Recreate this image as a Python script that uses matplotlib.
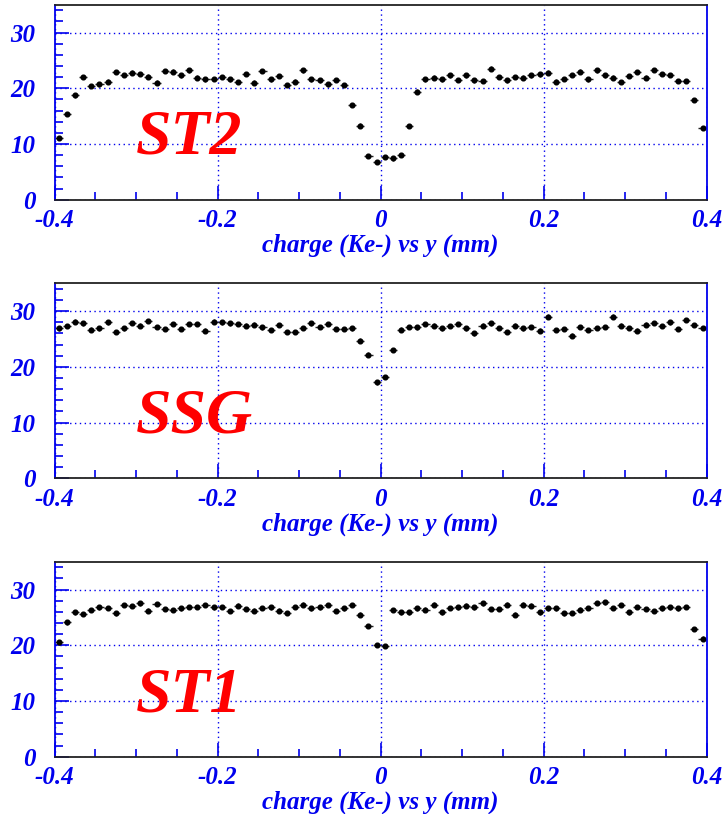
import numpy as np
import matplotlib
matplotlib.use('Agg')
import matplotlib.pyplot as plt
from matplotlib.ticker import MultipleLocator

# bin centres: 80 bins of 0.01 mm from -0.4 to 0.4
y_pos = np.round(np.arange(-0.395, 0.4, 0.01), 3)

st2 = [11.1, 15.4, 18.7, 22.0, 20.4, 20.7, 21.2, 22.9, 22.4, 22.8,
       22.6, 22.1, 21.0, 23.1, 23.0, 22.3, 23.2, 21.9, 21.6, 21.7,
       22.0, 21.6, 21.1, 22.6, 21.0, 23.1, 21.6, 22.2, 20.6, 21.2,
       23.2, 21.6, 21.4, 20.7, 21.5, 20.6, 17.0, 13.3, 7.8, 6.8,
       7.7, 7.4, 8.0, 13.2, 19.4, 21.6, 21.9, 21.6, 22.3, 21.5,
       22.3, 21.4, 21.3, 23.5, 22.0, 21.4, 22.0, 21.9, 22.3, 22.5,
       22.8, 21.2, 21.7, 22.4, 23.0, 21.6, 23.2, 22.3, 21.9, 21.1,
       22.2, 22.9, 21.9, 23.3, 22.6, 22.4, 21.3, 21.3, 17.9, 12.9]

ssg = [26.9, 27.3, 28.1, 27.8, 26.7, 26.9, 28.0, 26.3, 26.9, 27.9,
       27.4, 28.2, 27.2, 26.8, 27.7, 26.8, 27.7, 27.7, 26.5, 28.1,
       28.0, 27.8, 27.7, 27.4, 27.6, 27.1, 26.6, 27.5, 26.3, 26.3,
       27.0, 27.8, 27.2, 27.7, 26.8, 26.8, 26.9, 24.7, 22.2, 17.2,
       18.2, 23.0, 26.7, 27.2, 27.1, 27.7, 27.4, 26.9, 27.3, 27.7,
       26.9, 26.0, 27.4, 27.8, 27.0, 26.3, 27.4, 26.9, 27.2, 26.5,
       29.0, 26.6, 26.8, 25.6, 27.2, 26.6, 27.0, 27.2, 29.0, 27.4,
       27.0, 26.5, 27.6, 27.9, 27.3, 28.0, 26.8, 28.4, 27.5, 27.0]

st1 = [20.5, 24.1, 25.9, 25.6, 26.3, 26.8, 26.7, 25.7, 27.2, 27.0,
       27.5, 26.2, 27.4, 26.5, 26.3, 26.6, 26.9, 26.9, 27.2, 26.8,
       26.9, 26.1, 27.1, 26.5, 26.2, 26.7, 26.8, 26.2, 25.8, 26.9,
       27.3, 26.6, 26.8, 27.2, 26.1, 26.6, 27.2, 25.5, 23.5, 20.0,
       19.9, 26.3, 25.9, 25.9, 26.6, 26.4, 27.3, 25.9, 26.7, 26.8,
       27.1, 26.8, 27.5, 26.5, 26.5, 27.3, 25.5, 27.3, 27.1, 25.9,
       26.6, 26.6, 25.7, 25.8, 26.4, 26.7, 27.6, 27.7, 26.7, 27.2,
       25.9, 26.9, 26.5, 26.1, 26.6, 26.8, 26.6, 26.9, 22.9, 21.2]

names = ['ST2', 'SSG', 'ST1']
series = [st2, ssg, st1]

blue = '#0000ee'
font = 'Liberation Serif'

fig = plt.figure(figsize=(7.27, 8.14), dpi=100)
bottoms = [0.7547, 0.4124, 0.0704]

for name, vals, b in zip(names, series, bottoms):
    ax = fig.add_axes([0.0752, b, 0.8968, 0.2396])
    ax.errorbar(y_pos, vals, xerr=0.005, yerr=0.4, fmt='o', ms=3.4,
                color='black', ecolor='#222222', elinewidth=1.0, capsize=0)
    ax.set_xlim(-0.4, 0.4)
    ax.set_ylim(0, 35)
    ax.xaxis.set_major_locator(MultipleLocator(0.2))
    ax.xaxis.set_minor_locator(MultipleLocator(0.05))
    ax.yaxis.set_major_locator(MultipleLocator(10))
    ax.yaxis.set_minor_locator(MultipleLocator(2))
    ax.tick_params(which='both', direction='in', color=blue, width=1.2,
                   left=True, bottom=True, right=False, top=False)
    ax.tick_params(which='major', length=10)
    ax.tick_params(which='minor', length=6)
    ax.tick_params(axis='y', pad=14)
    ax.tick_params(axis='x', pad=7)
    ax.set_xticks([-0.4, -0.2, 0, 0.2, 0.4])
    ax.set_xticklabels(['-0.4', '-0.2', '0', '0.2', '0.4'])
    for lab in ax.get_xticklabels() + ax.get_yticklabels():
        lab.set_fontfamily(font)
        lab.set_fontweight('bold')
        lab.set_fontstyle('italic')
        lab.set_fontsize(18)
        lab.set_color(blue)
    ax.grid(True, which='major', color=blue, linestyle=(0, (1, 2.5)),
            linewidth=1.0)
    ax.set_axisbelow(True)
    for side in ['top', 'bottom']:
        ax.spines[side].set_color('#222222')
    for side in ['left', 'right']:
        ax.spines[side].set_color(blue)
    for s in ax.spines.values():
        s.set_linewidth(1.3)
    ax.set_xlabel('charge (Ke-) vs y (mm)', fontfamily=font, fontsize=18,
                  fontweight='bold', fontstyle='italic', color=blue,
                  labelpad=1)
    ax.text(-0.3, 8.2, name, fontfamily=font, fontsize=46, fontweight='bold',
            fontstyle='italic', color='red', ha='left', va='baseline')

fig.savefig('out.png', dpi=100)
